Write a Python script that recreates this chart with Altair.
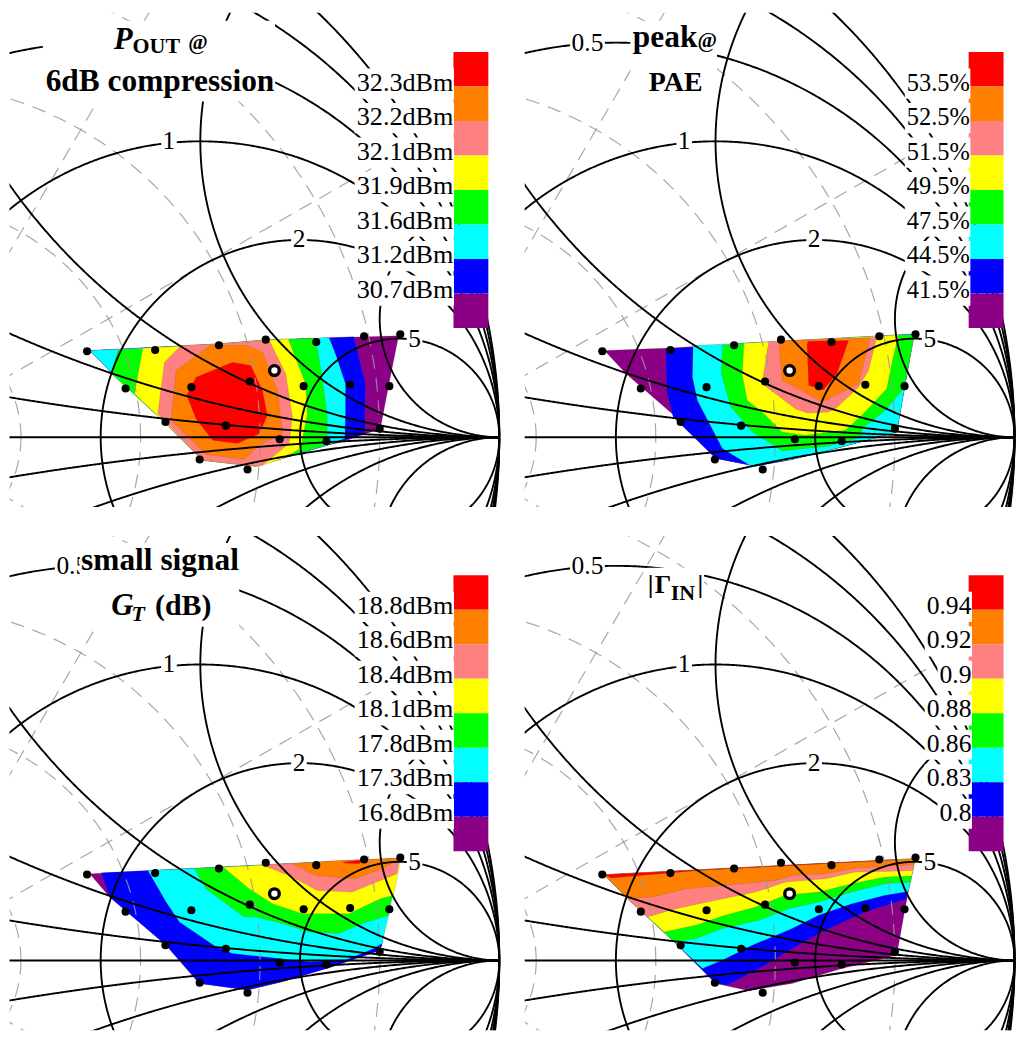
import altair as alt
import numpy as np
import pandas as pd

# ---------- values (zoomed-crop read-off, converted to reflection coefficient below)
BAND_COLORS = ["#8b0085", "#0000ff", "#00ffff", "#00ff00", "#ffff00", "#ff8080", "#ff8000", "#ff0000"]

POUT_BANDS = [
 [(270,150),(660,130),(800,118),(950,113),(1200,105),(1170,255),(1145,385),(1030,425),(985,435),(850,475),(770,498),(610,480),(500,370),(330,210)],
 [(270,150),(660,130),(800,118),(950,113),(1065,108),(1100,250),(1098,345),(1100,400),(985,435),(850,475),(770,498),(610,480),(500,370),(330,210)],
 [(270,150),(660,130),(800,118),(950,113),(990,110),(1010,160),(1040,250),(1040,340),(1038,415),(985,435),(850,475),(770,498),(610,480),(500,370),(330,210)],
 [(355,148),(660,130),(800,118),(950,113),(965,200),(975,270),(985,350),(985,433),(850,475),(770,498),(610,480),(500,370),(335,220)],
 [(430,143),(660,130),(800,118),(868,115),(885,160),(920,250),(925,340),(905,445),(850,475),(790,495),(770,498),(610,480),(500,370),(405,280),(410,250)],
 [(545,135),(660,130),(810,118),(860,220),(880,350),(870,430),(790,495),(770,498),(610,480),(475,340),(495,185)],
 [(632,135),(745,135),(790,155),(835,270),(850,400),(780,435),(735,478),(620,462),(515,360),(530,210)],
 [(700,185),(755,195),(790,270),(805,345),(780,400),(715,430),(640,420),(590,355),(562,285),(590,230)],
]
PAE_BANDS = [
 [(285,150),(480,142),(1220,100),(1215,115),(1190,255),(1165,395),(1000,440),(850,478),(740,498),(620,475),(500,350),(350,220)],
 [(470,145),(700,128),(1220,100),(1215,115),(1190,255),(1165,395),(1000,440),(850,478),(740,498),(620,475),(492,350),(472,270)],
 [(552,135),(700,128),(1220,100),(1215,115),(1190,255),(1165,395),(1000,440),(850,478),(725,497),(640,445),(565,300),(550,230)],
 [(640,135),(700,128),(1218,102),(1198,205),(1185,265),(1130,330),(1060,385),(1060,410),(960,437),(820,452),(795,435),(730,395),(665,318),(637,220)],
 [(705,128),(1170,103),(1150,190),(1135,265),(1060,345),(1010,390),(890,405),(820,395),(760,335),(715,300),(700,225)],
 [(780,122),(1105,110),(1080,210),(1050,260),(980,325),(960,335),(895,338),(860,325),(760,250),(775,150)],
 [(812,122),(1085,112),(1050,250),(940,305),(880,270),(820,240),(812,150)],
 [(898,122),(1020,120),(985,220),(945,268),(900,255),(895,130)],
]
GT_BANDS = [
 [(270,135),(1205,88),(1198,100),(1170,230),(1150,345),(1145,365),(1000,415),(850,460),(745,485),(600,465),(500,350),(330,205)],
 [(305,132),(1205,88),(1198,100),(1170,230),(1150,345),(1145,365),(1000,415),(850,460),(745,485),(600,465),(500,350),(330,205)],
 [(445,125),(1205,88),(1198,100),(1170,260),(1150,345),(1125,360),(1040,395),(930,400),(700,375),(650,355),(540,280),(500,220)],
 [(585,120),(1205,88),(1198,100),(1180,205),(1170,260),(1090,285),(1020,315),(930,310),(850,285),(770,265),(735,265),(620,180)],
 [(672,115),(1205,88),(1198,135),(1185,200),(1145,210),(1050,255),(910,255),(820,225),(750,180)],
 [(790,108),(1205,90),(1200,105),(1195,135),(1060,190),(955,185),(880,145),(800,112)],
 [(880,105),(1020,95),(1205,88),(1150,120),(1070,150),(950,140),(885,108)],
 [(1030,100),(1100,92),(1080,105),(1040,103)],
]
GIN_BANDS = [
 [(285,138),(1220,90),(1212,130),(1190,240),(1165,380),(1000,420),(850,465),(720,487),(620,465),(500,345),(350,205)],
 [(285,138),(1220,90),(1212,130),(1192,212),(1070,250),(950,305),(860,355),(760,415),(655,470),(620,465),(500,345),(350,205)],
 [(285,138),(1220,90),(1212,130),(1200,188),(1130,200),(1030,225),(930,260),(850,300),(730,350),(640,395),(580,420),(500,345),(350,205)],
 [(285,138),(1220,90),(1207,160),(1130,165),(1030,190),(930,220),(840,240),(750,275),(640,300),(560,330),(495,340),(350,205)],
 [(285,138),(1220,90),(1210,142),(1130,145),(1030,165),(930,190),(830,200),(740,235),(640,262),(560,290),(465,310),(350,205)],
 [(285,138),(1220,90),(1212,125),(1130,128),(1040,130),(950,150),(830,160),(740,190),(620,215),(500,240),(415,265),(350,205)],
 [(285,138),(1220,90),(1215,108),(1040,118),(950,135),(850,140),(800,155),(700,165),(530,180),(430,205),(355,208)],
 [(285,138),(1160,92),(1130,95),(850,110),(570,125),(305,148)],
]

MEASURED = [(262,152),(467,148),(659,134),(800,117),(952,124),(1096,107),(1205,101),
            (378,264),(576,260),(752,243),(914,257),(1054,253),(1172,257),
            (498,365),(680,376),(842,417),(983,423),(1143,385),(601,478),(745,508)]
PEAK = [(826,210)]

POUT_LABELS = ["32.3dBm","32.2dBm","32.1dBm","31.9dBm","31.6dBm","31.2dBm","30.7dBm"]
PAE_LABELS  = ["53.5%","52.5%","51.5%","49.5%","47.5%","44.5%","41.5%"]
GT_LABELS   = ["18.8dBm","18.6dBm","18.4dBm","18.1dBm","17.8dBm","17.3dBm","16.8dBm"]
GIN_LABELS  = ["0.94","0.92","0.9","0.88","0.86","0.83","0.8"]

R_VALUES = [0, 0.2, 0.5, 1, 2, 5]
X_VALUES = [0.2, 0.5, 1, 2, 5, -0.2, -0.5, -1, -2, -5]
MAG_VALUES = [0.2, 0.4, 0.6, 0.8]
ANG_VALUES = [30, 60, -30, -60]
R_MARKS = [("0.5", 72.5, 49), ("1", 169.5, 148), ("2", 300, 246.5), ("5", 416, 346)]

# ---------- layout: frame is the first panel's page position
CX, CY, SCALE_X, SCALE_Y = -99.0, 437.0, 600.0, 594.0
LEFT, RIGHT, TOP, BOTTOM = 9.5, 502.5, 11.0, 507.0
W = RIGHT - LEFT
FS = 25.5

def gx(px): return (px - CX) / SCALE_X
def gy(py): return (CY - py) / SCALE_Y
def from_crop(pts, dx=0, dy=0):
    return [(gx((a + dx) / 3), gy(300 + (b + dy) / 3)) for a, b in pts]

xscale = alt.Scale(domain=[gx(LEFT), gx(RIGHT)], nice=False, zero=False)
X = alt.X("re:Q", scale=xscale, axis=None)
Y = alt.Y("im:Q", scale=alt.Scale(domain=[gy(BOTTOM), gy(TOP)], nice=False, zero=False), axis=None)

# ---------- Smith chart grid
def grid_frame():
    rows = []
    t = np.linspace(-np.pi / 2 + 1e-4, np.pi / 2 - 1e-4, 1501)
    for r in R_VALUES:
        g = (r + 1j * np.tan(t) - 1) / (r + 1j * np.tan(t) + 1)
        rows += [dict(k=f"r{r}", i=i, re=v.real, im=v.imag) for i, v in enumerate(g)]
    s = np.tan(np.linspace(0, np.pi / 2 - 1e-4, 801))
    for x in X_VALUES:
        g = (s + 1j * x - 1) / (s + 1j * x + 1)
        rows += [dict(k=f"x{x}", i=i, re=v.real, im=v.imag) for i, v in enumerate(g)]
    rows += [dict(k="axis", i=0, re=-1.0, im=0.0), dict(k="axis", i=1, re=1.0, im=0.0)]
    return pd.DataFrame(rows)

def dash_frame():
    rows = []
    th = np.linspace(0, 2 * np.pi, 721)
    for m in MAG_VALUES:
        rows += [dict(k=f"m{m}", i=i, re=m * np.cos(a), im=m * np.sin(a)) for i, a in enumerate(th)]
    for d in ANG_VALUES:
        a = np.deg2rad(d)
        rows += [dict(k=f"a{d}", i=0, re=0.0, im=0.0), dict(k=f"a{d}", i=1, re=np.cos(a), im=np.sin(a))]
    return pd.DataFrame(rows)

GRID, DASH = grid_frame(), dash_frame()

CHAR_W = {".": 0.25, "d": 0.5, "B": 0.667, "m": 0.778, "%": 0.833}
def label_width(s, size=FS):
    return sum(CHAR_W.get(c, 0.5) for c in s) * size

def boxes(rows):
    df = pd.DataFrame([dict(re=gx(a), re2=gx(b), im=gy(c), im2=gy(d)) for a, b, c, d in rows])
    return alt.Chart(df).mark_rect(color="white").encode(x=X, x2="re2:Q", y=Y, y2="im2:Q")

def text_layer(s, px, py, size=FS, weight="normal", style="normal", align="left"):
    df = pd.DataFrame([dict(re=gx(px), im=gy(py), t=s)])
    return alt.Chart(df).mark_text(font="Liberation Serif", fontSize=size, fontWeight=weight, fontStyle=style,
                                   align=align, baseline="alphabetic", color="black").encode(x=X, y=Y, text="t:N")

def panel(bands, labels, label_right, label_size, dx, dy, title_box, title_parts):
    layers = []
    for band, col in zip(bands, BAND_COLORS):
        pts = from_crop(band, dx, dy)
        df = pd.DataFrame([dict(i=i, re=a, im=b) for i, (a, b) in enumerate(pts)])
        layers.append(alt.Chart(df).mark_line(interpolate="linear-closed", fill=col, stroke="#6a5040",
                                              strokeWidth=0.5, strokeOpacity=0.35, clip=True).encode(x=X, y=Y, order="i:Q"))
    layers.append(alt.Chart(DASH).mark_line(clip=True, stroke="#999999", strokeWidth=1.2, strokeDash=[14, 9], opacity=0.85).encode(
        x=X, y=Y, detail="k:N", order="i:Q"))
    layers.append(alt.Chart(GRID).mark_line(clip=True, stroke="black", strokeWidth=1.9).encode(
        x=X, y=Y, detail="k:N", order="i:Q"))
    # r-circle labels
    for s, px, py in R_MARKS:
        w = label_width(s)
        layers.append(boxes([(px - w / 2 - 1.5, px + w / 2 + 1.5, py - 19, py + 3)]))
        layers.append(text_layer(s, px, py, align="center"))
    # measured points
    for pts, kw in ((MEASURED, dict(size=66, filled=True, color="black", opacity=1)),
                    (PEAK, dict(size=95, filled=True, fill="white", stroke="black", strokeWidth=3.4, opacity=1))):
        mp = from_crop(pts)
        df = pd.DataFrame([dict(re=a, im=b) for a, b in mp])
        layers.append(alt.Chart(df).mark_point(shape="circle", **kw).encode(x=X, y=Y))
    # colour key
    top, step = 50.5, 34.6
    sw = pd.DataFrame([dict(re=gx(455), re2=gx(490), im=gy(top + step * i), im2=gy(top + step * (i + 1)), c=c)
                       for i, c in enumerate(BAND_COLORS[::-1])])
    layers.append(alt.Chart(sw).mark_rect().encode(x=X, x2="re2:Q", y=Y, y2="im2:Q", color=alt.Color("c:N", scale=None)))
    rows, texts = [], []
    for i, s in enumerate(labels):
        base = top + step * (i + 1) + 4.2
        rows.append((label_right - label_width(s, label_size) - 2, label_right + 0.5, base - 22.3, base + 8))
        texts.append(text_layer(s, label_right, base, size=label_size, align="right"))
    layers.append(boxes(rows))
    layers += texts
    # title
    layers.append(boxes([title_box]))
    for part in title_parts:
        layers.append(text_layer(*part[:3], **part[3]))
    return alt.layer(*layers).properties(width=W, height=BOTTOM - TOP)

B = "bold"
p1 = panel(POUT_BANDS, POUT_LABELS, 455, 26.3, 0, 0, (43, 276, 19, 100), [
    ("P", 114, 47, dict(size=31, weight=B, style="italic")),
    ("OUT", 133, 51.5, dict(size=22, weight=B)),
    ("@", 189, 47, dict(size=21, weight=B)),
    ("6dB compression", 160.5, 90, dict(size=31.5, weight=B, align="center")),
])
p2 = panel(PAE_BANDS, PAE_LABELS, 456.2, 24.5, -16.5, 0, (115.5, 202.5, 19, 95), [
    ("peak", 118, 45, dict(size=31.5, weight=B)),
    ("@", 183, 45, dict(size=21, weight=B)),
    ("PAE", 161, 90, dict(size=28, weight=B, align="center")),
])
p3 = panel(GT_BANDS, GT_LABELS, 455, 26.3, 0, 15, (80, 240, 18, 102), [
    ("small signal", 160.5, 45, dict(size=31.5, weight=B, align="center")),
    ("G", 111.5, 90, dict(size=31, weight=B, style="italic")),
    ("T", 132, 96, dict(size=22, weight=B, style="italic")),
    ("(dB)", 155.5, 90, dict(size=30, weight=B)),
])
p4 = panel(GIN_BANDS, GIN_LABELS, 457.8, 25.7, -16.5, 15, (132, 189.5, 43, 77), [
    ("|", 133, 68, dict(size=26, weight=B)),
    ("Γ", 140, 68, dict(size=26, weight=B)),
    ("IN", 156, 75, dict(size=22, weight=B)),
    ("|", 183, 68, dict(size=26, weight=B)),
])

chart = alt.vconcat(alt.hconcat(p1, p2, spacing=24), alt.hconcat(p3, p4, spacing=24), spacing=29).properties(
    padding={"left": 1.5, "top": 3, "right": 0, "bottom": 0}
).configure_view(stroke=None)

chart.save("out.html", embed_options={"renderer": "svg", "actions": False})
